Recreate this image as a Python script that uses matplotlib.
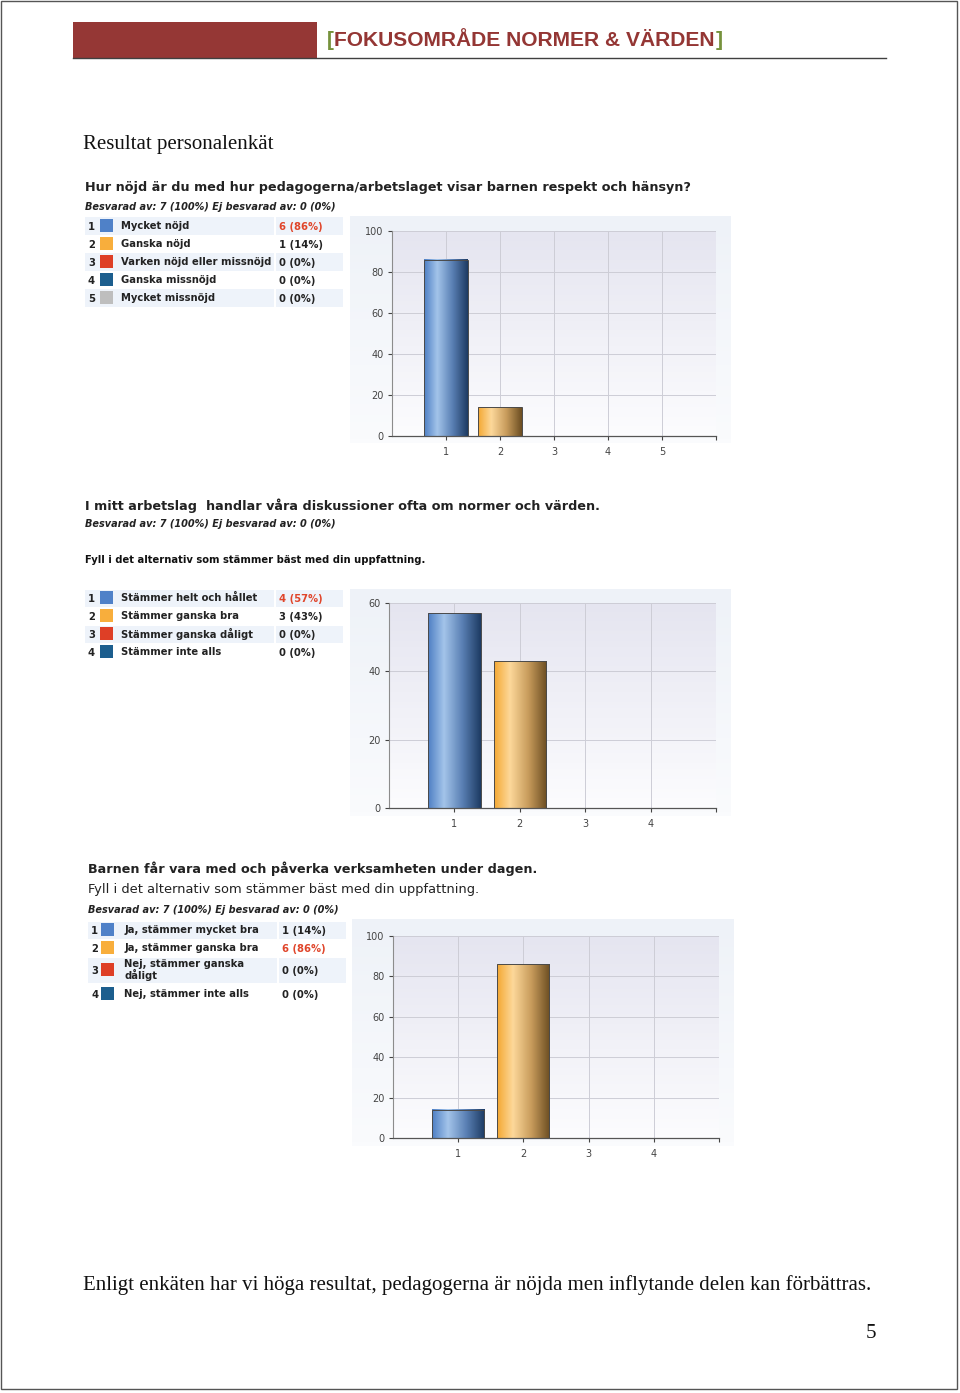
import numpy as np
import matplotlib.pyplot as plt
from matplotlib.patches import Rectangle
from matplotlib.colors import LinearSegmentedColormap

W, H = 960, 1393

# page texts
header_text = 'FOKUSOMRÅDE NORMER & VÄRDEN'
page_heading = 'Resultat personalenkät'
summary_text = ('Enligt enkäten har vi höga resultat, pedagogerna är nöjda men '
                'inflytande delen kan förbättras.')
page_number = '5'
answered = 'Besvarad av: 7 (100%) Ej besvarad av: 0 (0%)'
instruction = 'Fyll i det alternativ som stämmer bäst med din uppfattning.'

# fråga 1
q1_title = 'Hur nöjd är du med hur pedagogerna/arbetslaget visar barnen respekt och hänsyn?'
q1_labels = ['Mycket nöjd', 'Ganska nöjd', 'Varken nöjd eller missnöjd',
             'Ganska missnöjd', 'Mycket missnöjd']
q1_counts = [6, 1, 0, 0, 0]
q1_pct = [86, 14, 0, 0, 0]
q1_yticks = [0, 20, 40, 60, 80, 100]

# fråga 2
q2_title = 'I mitt arbetslag  handlar våra diskussioner ofta om normer och värden.'
q2_labels = ['Stämmer helt och hållet', 'Stämmer ganska bra',
             'Stämmer ganska dåligt', 'Stämmer inte alls']
q2_counts = [4, 3, 0, 0]
q2_pct = [57, 43, 0, 0]
q2_yticks = [0, 20, 40, 60]

# fråga 3
q3_title = 'Barnen får vara med och påverka verksamheten under dagen.'
q3_labels = ['Ja, stämmer mycket bra', 'Ja, stämmer ganska bra',
             'Nej, stämmer ganska\ndåligt', 'Nej, stämmer inte alls']
q3_counts = [1, 6, 0, 0]
q3_pct = [14, 86, 0, 0]
q3_yticks = [0, 20, 40, 60, 80, 100]

swatch_colors = ['#4F81C8', '#F8AE3C', '#DE3F26', '#1C5E8E', '#BEBEBE']

bar_cmaps = [
    LinearSegmentedColormap.from_list('b', [(0, '#4E7FC4'), (0.3, '#A3C4EA'),
                                           (0.65, '#5A80B4'), (1, '#1D3B63')]),
    LinearSegmentedColormap.from_list('o', [(0, '#F4A832'), (0.3, '#FDD89A'),
                                           (0.65, '#C89C5C'), (1, '#6C4E22')]),
]
panel_cmap = LinearSegmentedColormap.from_list('p', ['#FAFBFD', '#EEF2F8'])
plot_cmap = LinearSegmentedColormap.from_list('q', ['#FCFCFE', '#E5E5F0'])

fig = plt.figure(figsize=(W / 100, H / 100), dpi=100)
fig.patch.set_facecolor('white')


def px_rect(x0, y0, x1, y1):
    return [x0 / W, 1 - y1 / H, (x1 - x0) / W, (y1 - y0) / H]


def ftext(x, y, s, **kw):
    kw.setdefault('va', 'center')
    return fig.text(x / W, 1 - y / H, s, **kw)


def frect(x0, y0, x1, y1, **kw):
    fig.add_artist(Rectangle((x0 / W, 1 - y1 / H), (x1 - x0) / W, (y1 - y0) / H,
                             transform=fig.transFigure, **kw))


def draw_table(rows_y, row_h, labels, counts, num_x, sq_x, label_x, val_x, cell_end):
    top = max(counts)
    for i, (lab, c) in enumerate(zip(labels, counts)):
        y = rows_y[i]
        h = row_h[i]
        if i % 2 == 0:
            frect(num_x - 3, y - h / 2, val_x - 5, y + h / 2, facecolor='#EEF3FA', lw=0)
            frect(val_x - 3, y - h / 2, cell_end, y + h / 2, facecolor='#EEF3FA', lw=0)
        ftext(num_x, y + 1, str(i + 1), fontsize=7.2, weight='bold', color='#222222')
        frect(sq_x, y - 7, sq_x + 13, y + 6, facecolor=swatch_colors[i], lw=0)
        ftext(label_x, y, lab, fontsize=7.2, weight='bold', color='#222222',
              linespacing=0.95)
        pct = round(100 * c / sum(counts))
        ftext(val_x, y + 1, f'{c} ({pct}%)', fontsize=7.2, weight='bold',
              color='#E0452A' if c == top else '#222222')


def draw_chart(panel, plot, pct, yticks):
    pax = fig.add_axes(px_rect(*panel))
    pax.axis('off')
    pax.imshow(np.linspace(0, 1, 64).reshape(-1, 1), extent=(0, 1, 0, 1),
               aspect='auto', cmap=panel_cmap, origin='lower')

    ax = fig.add_axes(px_rect(*plot))
    n = len(pct)
    x = np.arange(1, n + 1)
    ax.imshow(np.linspace(0, 1, 64).reshape(-1, 1), extent=(0, n + 1, 0, yticks[-1]),
              aspect='auto', cmap=plot_cmap, origin='lower', zorder=0)
    bars = ax.bar(x, pct, width=0.8, color='none', edgecolor='#4A4A4A',
                  linewidth=0.7, zorder=3)
    grad = np.linspace(0, 1, 128).reshape(1, -1)
    for i, b in enumerate(bars):
        if b.get_height() > 0:
            ax.imshow(grad, extent=(b.get_x(), b.get_x() + b.get_width(), 0, b.get_height()),
                      aspect='auto', cmap=bar_cmaps[i % 2], zorder=2)
    ax.set_xlim(0, n + 1)
    ax.set_ylim(0, yticks[-1])
    ax.set_xticks(range(1, n + 2))
    ax.set_xticklabels([str(v) for v in x] + [''])
    ax.set_yticks(yticks)
    ax.grid(color='#CDCDD6', lw=0.7)
    ax.set_axisbelow(True)
    for s in ['top', 'right']:
        ax.spines[s].set_visible(False)
    ax.spines['left'].set_color('#8C8C8C')
    ax.spines['bottom'].set_color('#555555')
    ax.spines['left'].set_linewidth(0.8)
    ax.spines['bottom'].set_linewidth(0.9)
    ax.tick_params(axis='both', length=3, width=0.8, color='#444444',
                   labelsize=7, labelcolor='#444444')
    ax.tick_params(axis='x', pad=5)
    ax.tick_params(axis='y', pad=3)


# ram runt sidan
frect(1, 1, 957, 1389, facecolor='none', edgecolor='#555555', lw=1)

# sidhuvud
frect(73, 22, 317, 58, facecolor='#953735', lw=0)
fig.add_artist(plt.Line2D([73 / W, 886 / W], [1 - 58 / H, 1 - 58 / H],
                          transform=fig.transFigure, color='#404040', lw=1))
hdr = dict(family=['Liberation Sans Narrow', 'Liberation Sans'], weight='bold')
ftext(327, 41, '[', color='#76923C', fontsize=15, **hdr)
t = ftext(334, 41, header_text, color='#943634', fontsize=16, **hdr)
bb = t.get_window_extent(fig.canvas.get_renderer())
t.set_fontsize(16 * (716 - 334) / bb.width)
ftext(716, 41, ']', color='#76923C', fontsize=15, **hdr)

serif = ['Liberation Serif', 'DejaVu Serif']
ftext(83, 145, page_heading, fontsize=15, family=serif, color='#111111')

# fråga 1
ftext(85, 188, q1_title, fontsize=9.2, weight='bold', color='#222222')
ftext(85, 207, answered, fontsize=7, weight='bold', style='italic', color='#222222')
draw_table([226, 244, 262, 280, 298], [17] * 5, q1_labels, q1_counts,
           88, 100, 121, 279, 343)
draw_chart((350, 216, 731, 443), (392, 231, 716, 436), q1_pct, q1_yticks)

# fråga 2
ftext(85, 506, q2_title, fontsize=9.2, weight='bold', color='#222222')
ftext(85, 524, answered, fontsize=7, weight='bold', style='italic', color='#222222')
ftext(85, 560, instruction, fontsize=7.2, weight='bold', color='#111111')
draw_table([598, 616, 634, 652], [17] * 4, q2_labels, q2_counts,
           88, 100, 121, 279, 343)
draw_chart((350, 589, 731, 816), (389, 603, 716, 808), q2_pct, q2_yticks)

# fråga 3
ftext(88, 869, q3_title, fontsize=9.2, weight='bold', color='#222222')
ftext(88, 890, instruction, fontsize=9.4, color='#222222')
ftext(88, 910, answered, fontsize=7, weight='bold', style='italic', color='#222222')
draw_table([930, 948, 970, 994], [17, 17, 25, 17], q3_labels, q3_counts,
           91, 101, 124, 282, 346)
draw_chart((352, 919, 734, 1146), (393, 936, 719, 1138), q3_pct, q3_yticks)

# sammanfattning
ftext(83, 1285, summary_text, fontsize=15, family=serif, color='#111111')
ftext(871, 1334, page_number, fontsize=15, family=serif, color='#111111', ha='center')

fig.savefig('out.png', dpi=100)
